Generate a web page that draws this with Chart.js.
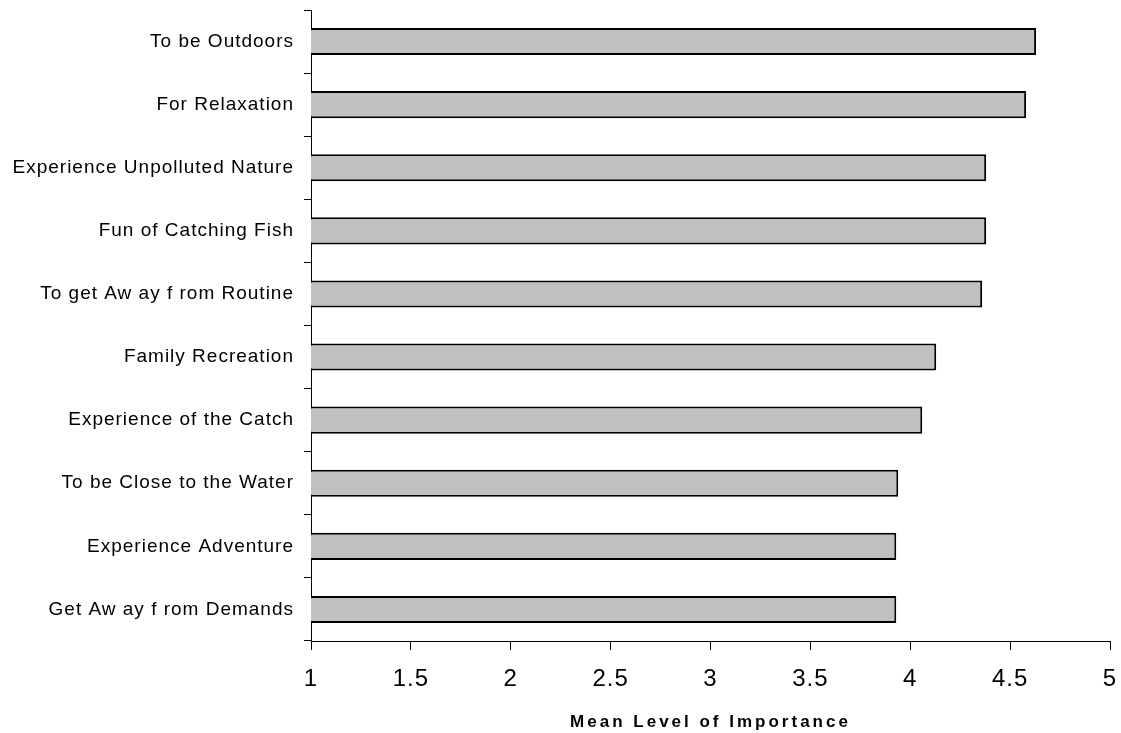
<!DOCTYPE html>
<html>
<head>
<meta charset="utf-8">
<script src="https://cdn.jsdelivr.net/npm/chart.js@4.4.1/dist/chart.umd.min.js"></script>
<style>
  html, body { margin: 0; padding: 0; background: #fff; }
  #wrap { width: 1121px; height: 733px; }
</style>
</head>
<body>
<div id="wrap"><canvas id="chart"></canvas></div>
<script>
// Reasons, top to bottom as shown
const reasons = [
  'To be Outdoors',
  'For Relaxation',
  'Experience Unpolluted Nature',
  'Fun of Catching Fish',
  'To get Aw ay f rom Routine',
  'Family Recreation',
  'Experience of the Catch',
  'To be Close to the Water',
  'Experience Adventure',
  'Get Aw ay f rom Demands'
];

// Mean importance scores
const meanScores = [4.63, 4.58, 4.38, 4.38, 4.36, 4.13, 4.06, 3.94, 3.93, 3.93];

const xMin = 1;
const xMax = 5;
const xStep = 0.5;
const xTitle = 'Mean Level of Importance';

const FONT = 'Liberation Sans, Arial, sans-serif';

// the original text is drawn a bit spread out, so widen the letters
const spacingPlugin = {
  id: 'spacing',
  beforeDraw(chart) { chart.ctx.letterSpacing = '1px'; }
};

const ctx = document.getElementById('chart').getContext('2d');

new Chart(ctx, {
  type: 'bar',
  data: {
    labels: reasons,
    datasets: [{
      data: meanScores,
      backgroundColor: '#c0c0c0',
      borderColor: '#000',
      borderWidth: 2,
      borderSkipped: false,
      barPercentage: 0.43,
      categoryPercentage: 1
    }]
  },
  plugins: [spacingPlugin],
  options: {
    indexAxis: 'y',
    responsive: true,
    maintainAspectRatio: false,
    animation: false,
    layout: { padding: { left: 0, right: 11, top: 10, bottom: 0 } },
    plugins: {
      legend: { display: false },
      tooltip: { enabled: false }
    },
    scales: {
      y: {
        grid: {
          offset: true,
          drawOnChartArea: false,
          tickLength: 7,
          color: '#000'
        },
        border: { color: '#000', width: 1 },
        ticks: {
          color: '#000',
          padding: 10,
          font: { family: FONT, size: 19 }
        },
        afterFit: (scale) => {
          scale.width = 311;
          scale.paddingTop = 0;
          scale.paddingBottom = 0;
        }
      },
      x: {
        min: xMin,
        max: xMax,
        grid: {
          drawOnChartArea: false,
          tickLength: 9,
          color: '#000'
        },
        border: { color: '#000', width: 1 },
        ticks: {
          stepSize: xStep,
          color: '#000',
          padding: 15,
          font: { family: FONT, size: 24 },
          callback: (v) => String(v)
        },
        title: {
          display: true,
          text: xTitle,
          color: '#000',
          padding: { top: 0, bottom: 0 },
          font: { family: FONT, size: 17, weight: 'bold' }
        },
        afterFit: (scale) => {
          scale.height = 92;
          scale.paddingLeft = 0;
          scale.paddingRight = 0;
          if (!scale._wideTitle) {
            const orig = scale.drawTitle;
            scale.drawTitle = function () {
              this.ctx.letterSpacing = '3px';
              orig.call(this);
              this.ctx.letterSpacing = '1px';
            };
            scale._wideTitle = true;
          }
        }
      }
    }
  }
});
</script>
</body>
</html>
